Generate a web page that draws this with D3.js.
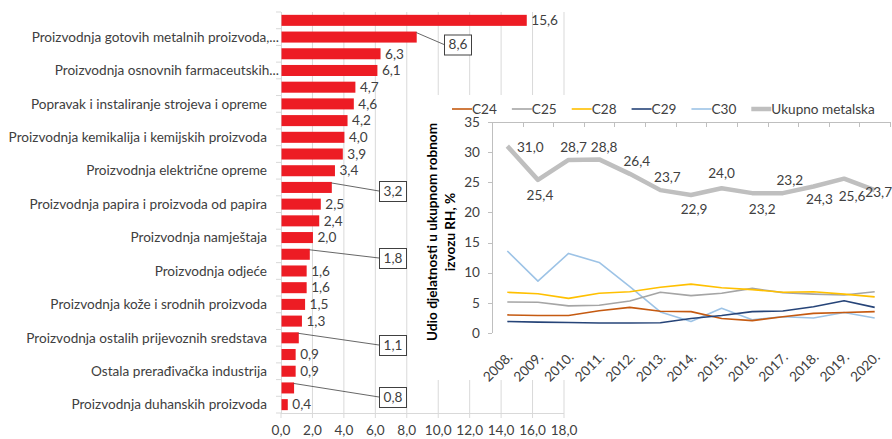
<!DOCTYPE html>
<html>
<head>
<meta charset="utf-8">
<script src="https://cdn.jsdelivr.net/npm/d3@7"></script>
<style>
  html, body { margin: 0; padding: 0; background: #fff; }
  svg { display: block; }
  text { font-family: "Lato", "Noto Sans", sans-serif; fill: #404040; }
</style>
</head>
<body>
<svg id="chart" width="892" height="439"></svg>
<script>
// ---------- Bar chart data ----------
// Excel shows only every other category label; hidden ones are left blank.
const barCategories = [
  "", "Proizvodnja gotovih metalnih proizvoda,...",
  "", "Proizvodnja osnovnih farmaceutskih...",
  "", "Popravak i instaliranje strojeva i opreme",
  "", "Proizvodnja kemikalija i kemijskih proizvoda",
  "", "Proizvodnja električne opreme",
  "", "Proizvodnja papira i proizvoda od papira",
  "", "Proizvodnja namještaja",
  "", "Proizvodnja odjeće",
  "", "Proizvodnja kože i srodnih proizvoda",
  "", "Proizvodnja ostalih prijevoznih sredstava",
  "", "Ostala prerađivačka industrija",
  "", "Proizvodnja duhanskih proizvoda"
];
const barValues = [15.6, 8.6, 6.3, 6.1, 4.7, 4.6, 4.2, 4.0, 3.9, 3.4, 3.2, 2.5,
                   2.4, 2.0, 1.8, 1.6, 1.6, 1.5, 1.3, 1.1, 0.9, 0.9, 0.8, 0.4];
const barTicks = [0, 2, 4, 6, 8, 10, 12, 14, 16, 18];

// ---------- Line chart data ----------
const years = ["2008.", "2009.", "2010.", "2011.", "2012.", "2013.", "2014.",
               "2015.", "2016.", "2017.", "2018.", "2019.", "2020."];
const seriesNames = ["C24", "C25", "C28", "C29", "C30", "Ukupno metalska"];
const c24 = [3.0, 2.9, 2.9, 3.7, 4.25, 3.6, 3.55, 2.4, 2.05, 2.7, 3.25, 3.4, 3.55];
const c25 = [5.15, 5.1, 4.5, 4.6, 5.3, 6.75, 6.2, 6.6, 7.4, 6.7, 6.45, 6.3, 6.85];
const c28 = [6.75, 6.5, 5.75, 6.6, 6.85, 7.6, 8.1, 7.5, 7.2, 6.75, 6.85, 6.45, 6.0];
const c29 = [1.9, 1.8, 1.75, 1.65, 1.65, 1.7, 2.4, 2.9, 3.55, 3.65, 4.35, 5.35, 4.25];
const c30 = [13.6, 8.6, 13.2, 11.7, 7.7, 3.5, 1.9, 4.1, 2.2, 2.7, 2.5, 3.4, 2.5];
const ukupno = [31.0, 25.4, 28.7, 28.8, 26.4, 23.7, 22.9, 24.0, 23.2, 23.2, 24.3, 25.6, 23.7];
const lineTicks = [0, 5, 10, 15, 20, 25, 30, 35];

// ---------- Drawing ----------
const svg = d3.select("#chart");
const fmt = d3.format(".1f");
const comma = v => fmt(v).replace(".", ",");
const FS = "13.6px";

// Bar chart
const bx = d3.scaleLinear().domain([0, 18]).range([281, 564]);
const by = d3.scaleBand().domain(d3.range(barValues.length)).range([12, 413])
  .paddingInner(0.34).paddingOuter(0.17);
const step = by.step();
const grid = "#d9d9d9";

const gBar = svg.append("g");
// vertical gridlines
gBar.selectAll("line.grid").data(barTicks.filter(t => t > 0)).join("line")
  .attr("x1", d => bx(d)).attr("x2", d => bx(d)).attr("y1", 12).attr("y2", 413)
  .attr("stroke", grid).attr("stroke-width", 1);
// x axis line
gBar.append("line").attr("x1", bx(0)).attr("x2", bx(18)).attr("y1", 413.5).attr("y2", 413.5)
  .attr("stroke", grid);
// x tick marks & labels
gBar.selectAll("line.xt").data(barTicks).join("line")
  .attr("x1", d => bx(d)).attr("x2", d => bx(d)).attr("y1", 413).attr("y2", 418)
  .attr("stroke", grid);
gBar.selectAll("text.xl").data(barTicks).join("text")
  .attr("x", d => bx(d)).attr("y", 430).attr("dy", "0.35em")
  .attr("text-anchor", "middle").style("font-size", FS).text(d => comma(d));
// y axis line and ticks at band boundaries
gBar.append("line").attr("x1", 281.5).attr("x2", 281.5).attr("y1", 12).attr("y2", 413)
  .attr("stroke", grid);
gBar.selectAll("line.yt").data(d3.range(barValues.length + 1)).join("line")
  .attr("x1", 276).attr("x2", 281).attr("y1", d => 12 + d * step).attr("y2", d => 12 + d * step)
  .attr("stroke", grid);
// bars
gBar.selectAll("rect.bar").data(barValues).join("rect")
  .attr("x", bx(0) + 0.5).attr("y", (d, i) => by(i))
  .attr("width", d => bx(d) - bx(0)).attr("height", by.bandwidth())
  .attr("fill", "#ed1c24");
// category labels
gBar.selectAll("text.cat").data(barCategories).join("text")
  .attr("x", d => d.endsWith("...") ? 279 : 267)
  .attr("y", (d, i) => by(i) + by.bandwidth() / 2).attr("dy", "0.35em")
  .attr("text-anchor", "end").style("font-size", FS).text(d => d);

// value labels, some as boxed callouts
const callouts = { 1: [444, 44.5], 10: [379, 191], 14: [379, 258], 19: [379, 345], 22: [379, 397] };
barValues.forEach((v, i) => {
  const cy = by(i) + by.bandwidth() / 2;
  if (callouts[i]) {
    const [lx, ly] = callouts[i];
    const w = 27, h = 20;
    gBar.append("line").attr("x1", bx(v)).attr("y1", by(i) + 1)
      .attr("x2", lx).attr("y2", ly).attr("stroke", "#404040").attr("stroke-width", 0.8);
    gBar.append("rect").attr("x", lx + 0.5).attr("y", ly - h / 2 + 0.5).attr("width", w).attr("height", h)
      .attr("fill", "#fff").attr("stroke", "#404040").attr("stroke-width", 1);
    gBar.append("text").attr("x", lx + w / 2 + 0.5).attr("y", ly).attr("dy", "0.35em")
      .attr("text-anchor", "middle").style("font-size", FS).text(comma(v));
  } else {
    gBar.append("text").attr("x", bx(v) + 5).attr("y", cy).attr("dy", "0.35em")
      .style("font-size", FS).text(comma(v));
  }
});

// Line chart panel (white background over the bar chart)
const gL = svg.append("g");
gL.append("rect").attr("x", 416).attr("y", 95).attr("width", 476).attr("height", 285).attr("fill", "#fff");

const lx = d3.scaleBand().domain(years).range([492, 890]);
const ly = d3.scaleLinear().domain([0, 35]).range([333, 122]);
const axc = "#bfbfbf";
// y axis
gL.append("line").attr("x1", 492.5).attr("x2", 492.5).attr("y1", ly(35)).attr("y2", ly(0)).attr("stroke", axc);
gL.selectAll("line.ylt").data(lineTicks).join("line")
  .attr("x1", 488).attr("x2", 492).attr("y1", d => Math.round(ly(d)) + 0.5).attr("y2", d => Math.round(ly(d)) + 0.5)
  .attr("stroke", axc);
gL.selectAll("text.yl").data(lineTicks).join("text")
  .attr("x", 480).attr("y", d => ly(d)).attr("dy", "0.35em").attr("text-anchor", "end")
  .style("font-size", FS).text(d => d);
// category axis at top
gL.append("line").attr("x1", 492).attr("x2", 890).attr("y1", Math.round(ly(35)) + 0.5).attr("y2", Math.round(ly(35)) + 0.5).attr("stroke", axc);
gL.selectAll("line.xlt").data(d3.range(years.length + 1)).join("line")
  .attr("x1", d => Math.round(492 + d * lx.step()) + 0.5).attr("x2", d => Math.round(492 + d * lx.step()) + 0.5)
  .attr("y1", Math.round(ly(35))).attr("y2", Math.round(ly(35)) + 5).attr("stroke", axc);
// year labels rotated
gL.selectAll("text.yr").data(years).join("text")
  .attr("transform", d => `translate(${lx(d) + lx.bandwidth() / 2 + 6},358) rotate(-45)`)
  .attr("text-anchor", "end").style("font-size", FS).text(d => d);
// axis title
const title = gL.append("text").attr("transform", "translate(437,232) rotate(-90)")
  .attr("text-anchor", "middle").style("font-size", FS).style("font-weight", "bold").style("fill", "#000");
title.append("tspan").attr("x", 0).attr("dy", 0).text("Udio djelatnosti u ukupnom robnom");
title.append("tspan").attr("x", 0).attr("dy", "1.3em").text("izvozu RH, %");

const seriesData = [c24, c25, c28, c29, c30, ukupno];
const colors = ["#c55a11", "#a5a5a5", "#ffc000", "#264478", "#9dc3e6", "#bfbfbf"];
const widths = [1.6, 1.6, 1.6, 1.6, 1.6, 4.5];
const line = d3.line().x((d, i) => lx(years[i]) + lx.bandwidth() / 2).y(d => ly(d));
[4, 0, 1, 2, 3, 5].forEach(k => {
  gL.append("path").datum(seriesData[k]).attr("d", line)
    .attr("fill", "none").attr("stroke", colors[k]).attr("stroke-width", widths[k])
    .attr("stroke-linejoin", "round");
});
// data labels for Ukupno
const labelOffsets = [[23, 1], [2, 15], [5, -13], [5, -12], [7, -13], [7, -13], [3, 14],
                      [0, -15], [10, 16], [7, -13], [6, 13], [8, 18], [4, 2]];
ukupno.forEach((v, i) => {
  const px = lx(years[i]) + lx.bandwidth() / 2, py = ly(v);
  gL.append("text").attr("x", px + labelOffsets[i][0]).attr("y", py + labelOffsets[i][1])
    .attr("dy", "0.35em").attr("text-anchor", "middle").style("font-size", FS).text(comma(v));
});
// legend
let legX = 452;
seriesNames.forEach((n, k) => {
  gL.append("line").attr("x1", legX).attr("x2", legX + 20).attr("y1", 109).attr("y2", 109)
    .attr("stroke", colors[k]).attr("stroke-width", widths[k]);
  const t = gL.append("text").attr("x", legX + 20).attr("y", 109).attr("dy", "0.35em")
    .style("font-size", FS).text(n);
  legX += 20 + t.node().getComputedTextLength() + 15;
});
</script>
</body>
</html>
